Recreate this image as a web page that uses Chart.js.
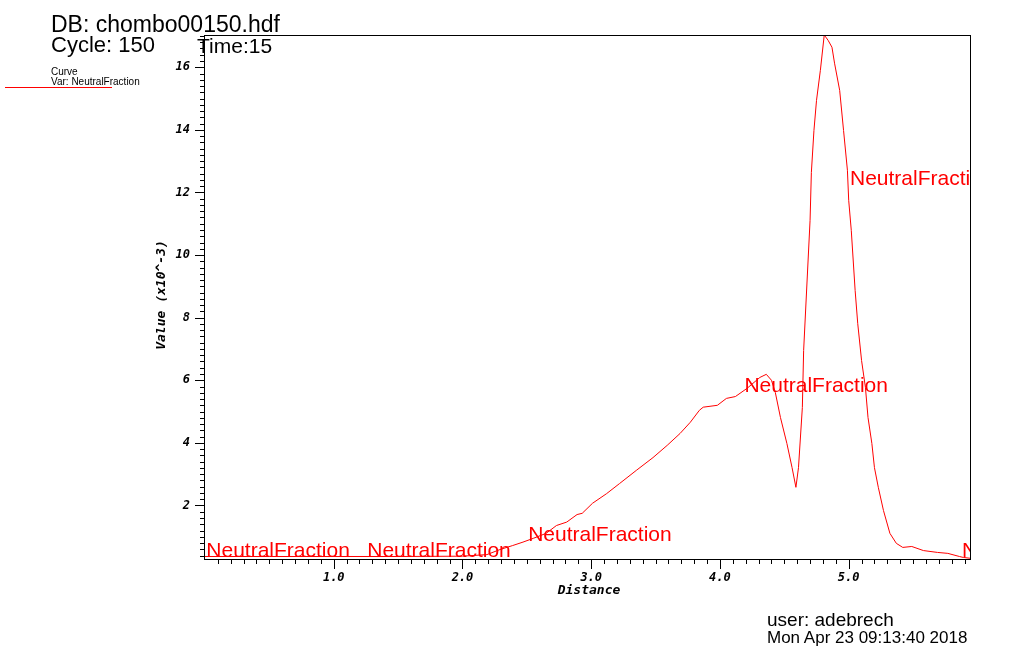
<!DOCTYPE html>
<html lang="en">
<head>
  <meta charset="UTF-8" />
  <title>NeutralFraction</title>
  <script src="https://cdn.jsdelivr.net/npm/chart.js"></script>
  <style>
    html, body { margin: 0; padding: 0; background: #fff; }
    #wrap { position: relative; width: 1024px; height: 657px; overflow: hidden; }
    #chart { position: absolute; left: 0; top: 0; }
    .txt {
      position: absolute;
      font-family: 'Liberation Sans', Arial, sans-serif;
      color: #000;
      white-space: nowrap;
      line-height: 1;
    }
    .big { font-size: 22px; }
    .small { font-size: 10px; }
    #legendLine { position: absolute; left: 5px; top: 87px; width: 107px; height: 1px; background: #ff0000; }
  </style>
</head>
<body>
  <div id="wrap">
    <canvas id="chart" width="1024" height="657"></canvas>
    <div class="txt big" style="left:51px; top:13px; font-size:23px;">DB: chombo00150.hdf</div>
    <div class="txt big" style="left:51px; top:34px;">Cycle: 150</div>
    <div class="txt big" style="left:197px; top:35px; font-size:21px;">Time:15</div>
    <div class="txt small" style="left:51px; top:67px;">Curve</div>
    <div class="txt small" style="left:51px; top:77px;">Var: NeutralFraction</div>
    <div id="legendLine"></div>
    <div class="txt" style="left:767px; top:610px; font-size:19px;">user: adebrech</div>
    <div class="txt" style="left:767px; top:629px; font-size:17px;">Mon Apr 23 09:13:40 2018</div>
  </div>

  <script>
    // Kurve (Werte in x10^-3)
    const distance = [
      0.00, 0.50, 1.00, 1.50, 2.00, 2.19, 2.29, 2.39, 2.47, 2.55,
      2.65, 2.73, 2.81, 2.89, 2.93, 3.01, 3.12, 3.22, 3.35, 3.48,
      3.59, 3.69, 3.77, 3.84, 3.87, 3.98, 4.05, 4.12, 4.21, 4.31,
      4.36, 4.40, 4.43, 4.47, 4.52, 4.56, 4.59, 4.61, 4.64, 4.65,
      4.70, 4.71, 4.73, 4.75, 4.78, 4.81, 4.84, 4.87, 4.89, 4.93,
      4.96, 4.99, 5.00, 5.02, 5.05, 5.07, 5.10, 5.13, 5.15, 5.18,
      5.20, 5.23, 5.27, 5.32, 5.37, 5.42, 5.49, 5.58, 5.69, 5.77,
      5.86, 5.89, 5.95
    ];
    const neutralFraction = [
      0.37, 0.37, 0.37, 0.37, 0.38, 0.43, 0.59, 0.72, 0.83, 0.95,
      1.11, 1.36, 1.47, 1.71, 1.75, 2.07, 2.38, 2.70, 3.12, 3.53,
      3.92, 4.30, 4.66, 5.04, 5.14, 5.20, 5.42, 5.48, 5.74, 6.09,
      6.19, 6.00, 5.61, 4.81, 3.98, 3.21, 2.58, 3.21, 5.13, 6.95,
      11.11, 12.64, 13.98, 14.94, 15.90, 17.03, 16.86, 16.64, 16.13, 15.26,
      13.98, 12.71, 11.75, 10.79, 8.87, 7.82, 6.63, 5.77, 4.81, 3.98,
      3.21, 2.58, 1.84, 1.11, 0.79, 0.66, 0.69, 0.56, 0.50, 0.47,
      0.37, 0.34, 0.31
    ];

    // Beschriftungen entlang der Kurve
    const curveLabelX = [0.01, 1.26, 2.51, 4.19, 5.01, 5.88];
    const curveLabelY = [0.34, 0.34, 0.85, 5.61, 12.23, 0.34];
    const curveLabel = 'NeutralFraction';

    // Achsen
    const xTicks = [1, 2, 3, 4, 5];
    const yTicks = [2, 4, 6, 8, 10, 12, 14, 16];
    const xRange = [0, 5.95];
    const yRange = [0.29, 17.03];

    const tickFont = { family: "'DejaVu Sans Mono', monospace", size: 12, style: 'italic', weight: 'bold' };

    // Rahmen, Tickmarken, Achsentitel und Kurvenlabels
    const visitFrame = {
      id: 'visitFrame',
      afterDatasetsDraw(chart) {
        const { ctx, chartArea: a, scales: { x, y } } = chart;
        ctx.save();
        ctx.beginPath();
        ctx.rect(a.left, a.top, a.right - a.left, a.bottom - a.top);
        ctx.clip();
        ctx.fillStyle = '#ff0000';
        ctx.font = "21px 'Liberation Sans', Arial, sans-serif";
        ctx.textBaseline = 'alphabetic';
        curveLabelX.forEach((v, i) => {
          ctx.fillText(curveLabel, x.getPixelForValue(v), y.getPixelForValue(curveLabelY[i]));
        });
        ctx.restore();
      },
      afterDraw(chart) {
        const { ctx, chartArea: a, scales: { x, y } } = chart;
        ctx.save();
        ctx.strokeStyle = '#000';
        ctx.lineWidth = 1;
        ctx.strokeRect(Math.round(a.left) - 0.5, Math.round(a.top) + 0.5,
          Math.round(a.right - a.left), Math.round(a.bottom - a.top));

        ctx.beginPath();
        for (let i = 1; i / 10 <= xRange[1]; i++) {
          const px = Math.round(x.getPixelForValue(i / 10)) + 0.5;
          const len = i % 10 === 0 ? 10 : 5;
          ctx.moveTo(px, a.bottom);
          ctx.lineTo(px, a.bottom + len);
        }
        for (let i = 2; i / 5 <= yRange[1]; i++) {
          const py = Math.round(y.getPixelForValue(i / 5)) + 0.5;
          const len = i % 10 === 0 ? 9 : 4;
          ctx.moveTo(a.left - 1, py);
          ctx.lineTo(a.left - 1 - len, py);
        }
        ctx.stroke();

        ctx.fillStyle = '#000';
        ctx.font = "italic bold 13px 'DejaVu Sans Mono', monospace";
        ctx.textAlign = 'center';
        ctx.textBaseline = 'middle';
        ctx.fillText('Distance', 589, 591);
        ctx.translate(162, 295);
        ctx.rotate(-Math.PI / 2);
        ctx.fillText('Value (x10^-3)', 0, 0);
        ctx.restore();
      }
    };

    new Chart(document.getElementById('chart'), {
      type: 'line',
      data: {
        datasets: [{
          label: 'NeutralFraction',
          data: distance.map((d, i) => ({ x: d, y: neutralFraction[i] })),
          borderColor: '#ff0000',
          borderWidth: 1,
          pointRadius: 0,
          tension: 0,
          fill: false
        }]
      },
      options: {
        responsive: false,
        animation: false,
        devicePixelRatio: 1,
        layout: { padding: { top: 35, right: 53, left: 0, bottom: 0 } },
        plugins: { legend: { display: false }, tooltip: { enabled: false } },
        scales: {
          x: {
            type: 'linear',
            min: xRange[0],
            max: xRange[1],
            grid: { display: false, drawTicks: false },
            border: { display: false },
            afterBuildTicks: s => { s.ticks = xTicks.map(v => ({ value: v })); },
            afterFit: s => { s.height = 98; },
            ticks: {
              autoSkip: false,
              maxRotation: 0,
              padding: 12,
              color: '#000',
              font: tickFont,
              callback: v => v.toFixed(1)
            }
          },
          y: {
            type: 'linear',
            min: yRange[0],
            max: yRange[1],
            grid: { display: false, drawTicks: false },
            border: { display: false },
            afterBuildTicks: s => { s.ticks = yTicks.map(v => ({ value: v })); },
            afterFit: s => { s.width = 205; },
            ticks: {
              autoSkip: false,
              padding: 15,
              color: '#000',
              font: tickFont,
              callback: v => String(v)
            }
          }
        }
      },
      plugins: [visitFrame]
    });
  </script>
</body>
</html>
